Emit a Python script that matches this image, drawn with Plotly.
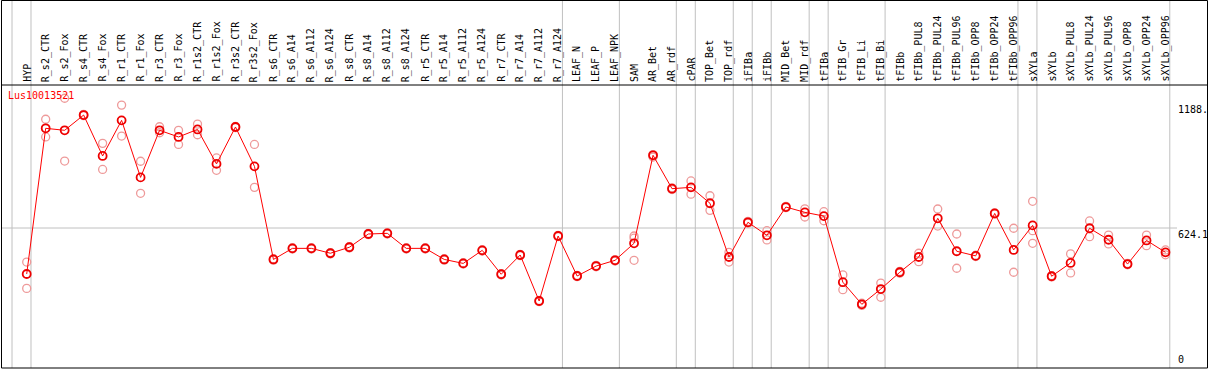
import plotly.graph_objects as go

# ---------------- data ----------------
categories = ["HYP", "R_s2_CTR", "R_s2_Fox", "R_s4_CTR", "R_s4_Fox", "R_r1_CTR", "R_r1_Fox",
              "R_r3_CTR", "R_r3_Fox", "R_r1s2_CTR", "R_r1s2_Fox", "R_r3s2_CTR", "R_r3s2_Fox",
              "R_s6_CTR", "R_s6_A14", "R_s6_A112", "R_s6_A124", "R_s8_CTR", "R_s8_A14",
              "R_s8_A112", "R_s8_A124", "R_r5_CTR", "R_r5_A14", "R_r5_A112", "R_r5_A124",
              "R_r7_CTR", "R_r7_A14", "R_r7_A112", "R_r7_A124", "LEAF_N", "LEAF_P", "LEAF_NPK",
              "SAM", "AR_Bet", "AR_rdf", "cPAR", "TOP_Bet", "TOP_rdf", "iFIBa", "iFIBb",
              "MID_Bet", "MID_rdf", "tFIBa", "tFIB_Gr", "tFIB_Li", "tFIB_Bi", "tFIBb",
              "tFIBb_PUL8", "tFIBb_PUL24", "tFIBb_PUL96", "tFIBb_OPP8", "tFIBb_OPP24",
              "tFIBb_OPP96", "sXYLa", "sXYLb", "sXYLb_PUL8", "sXYLb_PUL24", "sXYLb_PUL96",
              "sXYLb_OPP8", "sXYLb_OPP24", "sXYLb_OPP96"]

mean_values = [416, 1075, 1066, 1135, 950, 1111, 853, 1066, 1036, 1070, 914, 1081, 903,
               482, 532, 532, 510, 537, 597, 600, 532, 532, 482, 464, 523,
               415, 502, 294, 588, 407, 452, 478,
               555, 953, 802, 808, 736, 493, 650, 591,
               719, 695, 678, 379, 279, 348, 424,
               493, 668, 519, 498, 690, 525,
               636, 406, 466, 623, 571, 461, 568, 514]

rep1_values = [470, 1116, 1211, 1138, 1007, 1180, 926, 1082, 1066, 1094, 941, 1084, 1002,
               485, 535, 535, 513, 540, 600, 603, 535, 535, 485, 467, 526,
               418, 505, 297, 591, 410, 455, 481,
               588, 956, 806, 837, 770, 514, 654, 612,
               722, 711, 698, 412, 284, 375, 428,
               510, 710, 597, 501, 693, 623,
               745, 409, 507, 656, 592, 464, 592, 525]

rep2_values = [351, 1036, 927, 1132, 889, 1040, 781, 1055, 1002, 1046, 885, 1078, 808,
               479, 529, 529, 507, 534, 594, 597, 529, 529, 479, 461, 520,
               412, 499, 291, 585, 404, 449, 475,
               478, 945, 798, 777, 704, 470, 646, 570,
               716, 674, 657, 345, 274, 311, 420,
               472, 633, 442, 495, 687, 424,
               612, 403, 421, 585, 552, 458, 544, 503]

rep3_values = [None] * 32 + [578] + [None] * 20 + [555] + [None] * 7

group_ends = ["", "HYP", "R_r7_A124", "LEAF_NPK", "AR_rdf", "cPAR", "TOP_rdf", "iFIBa",
              "iFIBb", "MID_rdf", "tFIBa", "tFIB_Bi", "tFIBb_OPP96", "sXYLa", "sXYLb_OPP96"]

gene_name = "Lus10013521"
ytick_values = [1188.2, 624.1, 0]
ytick_labels = ["1188.", "624.1", "0"]

# ---------------- layout constants (pixels) ----------------
W, H = 1209, 370
X0, DX = 26.7, 18.98          # pixel x of first category, spacing
Y0, KY = 366.0, 0.2211        # pixel y of value 0, pixels per unit
HEADER_Y = 85
FONT = "DejaVu Sans Mono"

def px(x):
    return x / W

def py(y):
    return 1 - y / H

xs = list(range(len(categories)))

fig = go.Figure()

# replicate points
for reps in (rep1_values, rep2_values, rep3_values):
    fig.add_trace(go.Scatter(
        x=xs, y=reps, mode="markers",
        marker=dict(symbol="circle-open", size=8, color="#ee9a9a", line=dict(width=1.3)),
        hoverinfo="skip", showlegend=False))

# mean line
fig.add_trace(go.Scatter(
    x=xs, y=mean_values, mode="lines+markers",
    line=dict(color="#ff0000", width=1),
    marker=dict(symbol="circle-open", size=8, color="#ee0000", line=dict(width=1.8)),
    showlegend=False))

shapes = []
# group separators
for name in group_ends:
    idx = categories.index(name) if name else -1
    shapes.append(dict(type="line", xref="x", yref="paper", x0=idx + 0.226, x1=idx + 0.226,
                       y0=py(368), y1=py(0), line=dict(color="#c0c0c0", width=1), layer="below"))
# horizontal gridline at middle tick
shapes.append(dict(type="line", xref="paper", yref="y", x0=px(1), x1=px(1177),
                   y0=ytick_values[1], y1=ytick_values[1],
                   line=dict(color="#c0c0c0", width=1), layer="below"))
# header separator
shapes.append(dict(type="line", xref="paper", yref="paper", x0=px(1), x1=px(1207.5),
                   y0=py(HEADER_Y), y1=py(HEADER_Y), line=dict(color="black", width=1)))
# border
shapes.append(dict(type="rect", xref="paper", yref="paper", x0=px(1.5), x1=px(1207.5),
                   y0=py(368), y1=py(0.5), line=dict(color="black", width=1)))

annotations = []
for i, name in enumerate(categories):
    annotations.append(dict(x=i, y=py(83), xref="x", yref="paper", text=name,
                            textangle=-90, showarrow=False, xanchor="center", yanchor="bottom",
                            font=dict(family=FONT, size=10, color="black"), borderpad=0))
annotations.append(dict(x=px(7), y=py(89), xref="paper", yref="paper", text=gene_name,
                        showarrow=False, xanchor="left", yanchor="top",
                        font=dict(family=FONT, size=10, color="#ff0000"), borderpad=0))
for v, t in zip(ytick_values, ytick_labels):
    annotations.append(dict(x=px(1177), y=v, xref="paper", yref="y", text=t,
                            showarrow=False, xanchor="left",
                            yanchor="bottom" if v == 0 else "top",
                            font=dict(family=FONT, size=10, color="black"), borderpad=0))

fig.update_layout(
    width=W, height=H, autosize=False,
    margin=dict(l=0, r=0, t=0, b=0),
    paper_bgcolor="white", plot_bgcolor="white",
    xaxis=dict(range=[(0 - X0) / DX, (W - X0) / DX], visible=False, showgrid=False),
    yaxis=dict(range=[(Y0 - H) / KY, Y0 / KY], visible=False, showgrid=False),
    shapes=shapes, annotations=annotations,
)

fig.write_html("out.html", config={"displayModeBar": False},
               post_script="document.body.style.margin='0';document.body.style.overflow='hidden';")
